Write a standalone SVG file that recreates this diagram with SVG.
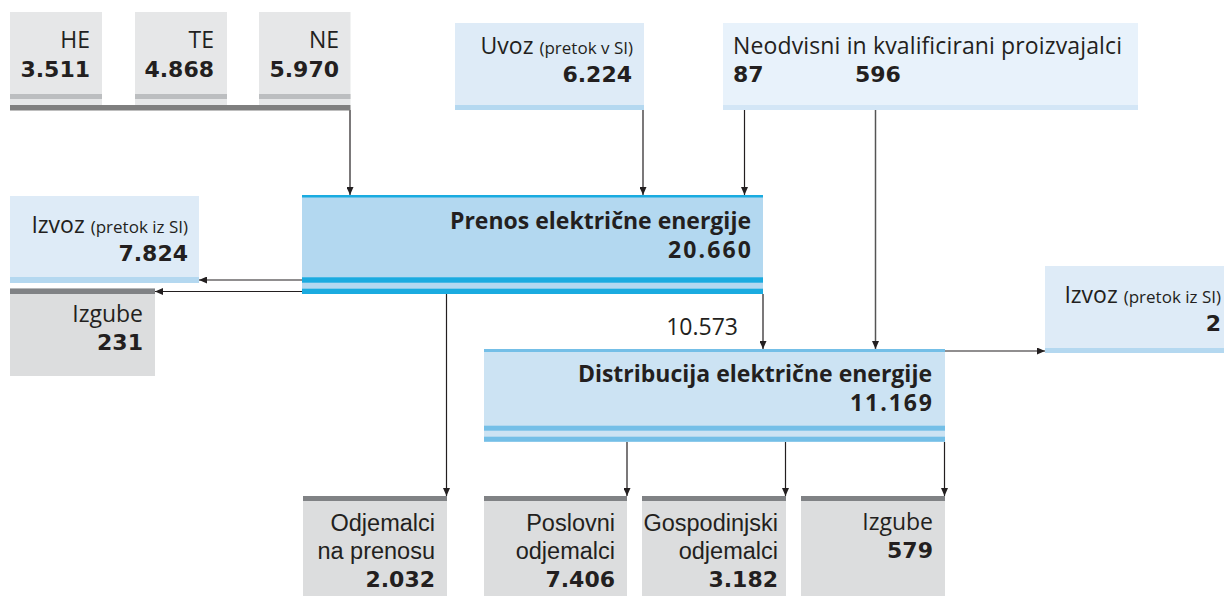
<svg xmlns="http://www.w3.org/2000/svg" width="1224" height="596" viewBox="0 0 1224 596">
<style>
  .reg{font-family:"Open Sans","Liberation Sans",sans-serif;font-size:23px;fill:#231f20}
  .ml{font-family:"Liberation Sans","Open Sans",sans-serif;font-size:23.5px;fill:#231f20}
  .sm{font-size:17px}
  .hd{font-family:"Open Sans","Liberation Sans",sans-serif;font-size:23px;font-weight:bold;fill:#231f20}
  .num{font-family:"DejaVu Sans","Liberation Sans",sans-serif;font-size:22px;font-weight:bold;fill:#231f20}
  .end{text-anchor:end}
  .grey{fill:#e6e7e8}
  .greyS{fill:#bcbec0}
  .dark{fill:#808285}
  .gbox{fill:#dcddde}
  .lblue{fill:#deebf7}
  .lblueS{fill:#b4d8f0}
  .line{stroke:#231f20;stroke-width:1.2;fill:none}
</style>
<defs>
  <marker id="ah" markerUnits="userSpaceOnUse" markerWidth="8" markerHeight="7" refX="8" refY="3.5" orient="auto">
    <path d="M0,0 L8,3.5 L0,7 z" fill="#231f20"/>
  </marker>
</defs>
<rect width="1224" height="596" fill="#ffffff"/>

<g id="connectors">
  <line class="line" x1="350" y1="110" x2="350" y2="195" marker-end="url(#ah)"/>
  <line class="line" x1="643" y1="110" x2="643" y2="195" marker-end="url(#ah)"/>
  <line class="line" x1="744.5" y1="110" x2="744.5" y2="195" marker-end="url(#ah)"/>
  <line x1="875.5" y1="110" x2="875.5" y2="349" stroke="#555" stroke-width="1.5" marker-end="url(#ah)"/>
  <line class="line" x1="302" y1="280" x2="199" y2="280" marker-end="url(#ah)"/>
  <line class="line" x1="302" y1="291.5" x2="155" y2="291.5" marker-end="url(#ah)"/>
  <line class="line" x1="446.5" y1="294" x2="446.5" y2="496" marker-end="url(#ah)"/>
  <line class="line" x1="763" y1="294" x2="763" y2="349" marker-end="url(#ah)"/>
  <line class="line" x1="945" y1="351" x2="1045" y2="351" marker-end="url(#ah)"/>
  <line class="line" x1="627" y1="442" x2="627" y2="496" marker-end="url(#ah)"/>
  <line class="line" x1="785.5" y1="442" x2="785.5" y2="496" marker-end="url(#ah)"/>
  <line class="line" x1="944.5" y1="442" x2="944.5" y2="496" marker-end="url(#ah)"/>
  <text class="reg end" x="738" y="335">10.573</text>
</g>

<g id="he">
  <rect class="grey" x="10" y="12" width="92" height="93"/>
  <rect class="greyS" x="10" y="94" width="92" height="5"/>
  <text class="reg end" x="90" y="48">HE</text>
  <text class="num end" x="90" y="77">3.511</text>
</g>
<g id="te">
  <rect class="grey" x="135" y="12" width="92" height="93"/>
  <rect class="greyS" x="135" y="94" width="92" height="5"/>
  <text class="reg end" x="214" y="48">TE</text>
  <text class="num end" x="214" y="77">4.868</text>
</g>
<g id="ne">
  <rect class="grey" x="259" y="12" width="91.5" height="93"/>
  <rect class="greyS" x="259" y="94" width="91.5" height="5"/>
  <text class="reg end" x="339" y="48">NE</text>
  <text class="num end" x="339" y="77">5.970</text>
</g>
<g id="proizvodnja-bar">
  <rect x="10" y="105" width="340.5" height="5.5" fill="#7f7f7f"/>
</g>

<g id="uvoz">
  <rect class="lblue" x="455" y="23" width="189" height="87"/>
  <rect class="lblueS" x="455" y="105" width="189" height="5"/>
  <text class="reg end" x="633" y="54">Uvoz <tspan class="sm">(pretok v SI)</tspan></text>
  <text class="num end" x="632" y="82">6.224</text>
</g>

<g id="neodvisni">
  <rect x="723" y="23" width="415" height="87" fill="#e8f2fb"/>
  <rect x="723" y="105" width="415" height="5" fill="#d3e6f6"/>
  <text class="reg" x="733" y="54" textLength="389">Neodvisni in kvalificirani proizvajalci</text>
  <text class="num" x="733" y="82">87</text>
  <text class="num" x="855" y="82">596</text>
</g>

<g id="prenos">
  <rect x="302" y="195" width="461" height="99" fill="#b3d8f0"/>
  <rect x="302" y="195" width="461" height="2.5" fill="#1aabe0"/>
  <rect x="302" y="277.3" width="461" height="5.4" fill="#1aabe0"/>
  <rect x="302" y="288.7" width="461" height="5.3" fill="#1aabe0"/>
  <text class="hd end" x="751" y="229">Prenos električne energije</text>
  <text class="hd end" x="751" y="258" textLength="83">20.660</text>
</g>

<g id="izvoz-prenos">
  <rect class="lblue" x="10" y="196" width="189" height="87"/>
  <rect class="lblueS" x="10" y="277" width="189" height="6"/>
  <text class="reg end" x="188" y="233">Izvoz <tspan class="sm">(pretok iz SI)</tspan></text>
  <text class="num end" x="188" y="261">7.824</text>
</g>

<g id="izgube-prenos">
  <rect class="gbox" x="10" y="288.5" width="145" height="87.5"/>
  <rect class="dark" x="10" y="288.5" width="145" height="5.5"/>
  <text class="reg end" x="143" y="322">Izgube</text>
  <text class="num end" x="143" y="350">231</text>
</g>

<g id="distribucija">
  <rect x="484" y="349" width="461" height="93" fill="#cce3f3"/>
  <rect x="484" y="349" width="461" height="3" fill="#74bfe7"/>
  <rect x="484" y="425.7" width="461" height="5" fill="#74bfe7"/>
  <rect x="484" y="436.7" width="461" height="5" fill="#74bfe7"/>
  <text class="hd end" x="932" y="382">Distribucija električne energije</text>
  <text class="hd end" x="932" y="411" textLength="82">11.169</text>
</g>

<g id="izvoz-distribucija">
  <rect class="lblue" x="1045" y="266" width="179" height="87"/>
  <rect class="lblueS" x="1045" y="348" width="179" height="5"/>
  <text class="reg end" x="1221" y="303">Izvoz <tspan class="sm">(pretok iz SI)</tspan></text>
  <text class="num end" x="1221" y="331">2</text>
</g>

<g id="odjemalci-prenos">
  <rect class="gbox" x="303" y="496" width="144" height="100"/>
  <rect class="dark" x="303" y="496" width="144" height="5"/>
  <text class="ml end" x="435" y="531">Odjemalci</text>
  <text class="ml end" x="435" y="559">na prenosu</text>
  <text class="num end" x="435" y="587">2.032</text>
</g>

<g id="poslovni">
  <rect class="gbox" x="484" y="496" width="143" height="100"/>
  <rect class="dark" x="484" y="496" width="143" height="5"/>
  <text class="ml end" x="615" y="531">Poslovni</text>
  <text class="ml end" x="615" y="559">odjemalci</text>
  <text class="num end" x="615" y="587">7.406</text>
</g>

<g id="gospodinjski">
  <rect class="gbox" x="642" y="496" width="144" height="100"/>
  <rect class="dark" x="642" y="496" width="144" height="5"/>
  <text class="ml end" x="778" y="531">Gospodinjski</text>
  <text class="ml end" x="778" y="559">odjemalci</text>
  <text class="num end" x="778" y="587">3.182</text>
</g>

<g id="izgube-distribucija">
  <rect class="gbox" x="801" y="496" width="144" height="100"/>
  <rect class="dark" x="801" y="496" width="144" height="5"/>
  <text class="reg end" x="933" y="530">Izgube</text>
  <text class="num end" x="933" y="558">579</text>
</g>
</svg>
